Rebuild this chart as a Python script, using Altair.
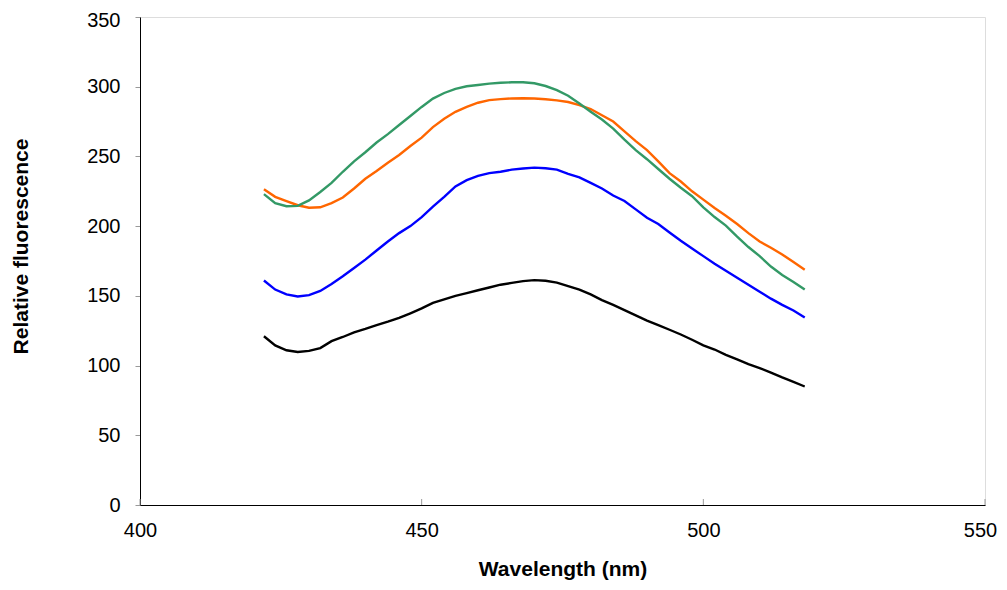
import altair as alt
import pandas as pd

wavelength = list(range(422, 519, 2))

black = [121, 114.5, 111, 109.7, 110.5, 112.5, 117.5, 120.5, 123.8, 126.3,
         129, 131.5, 134.2, 137.5, 141, 145, 147.5, 150, 152, 154,
         156, 158, 159.3, 160.6, 161.3, 160.8, 159.5, 157, 154.5, 151,
         147, 143.5, 139.8, 136, 132.3, 129, 125.7, 122.3, 118.5, 114.5,
         111.5, 107.7, 104.5, 101, 98.2, 95, 91.5, 88.3, 85]

blue = [161, 154.5, 151, 149.5, 150.5, 153.5, 158.5, 164, 170, 176,
        182.5, 189, 195, 200, 206.5, 214, 221, 228.5, 233, 236,
        238, 239, 240.5, 241.3, 242, 241.5, 240.5, 237.5, 235, 231,
        227, 222, 218, 212, 206, 201.5, 195.5, 189.5, 184, 178.5,
        173, 168, 163, 158, 153, 148, 143.5, 139.5, 134.5]

orange = [226.5, 221, 218, 215, 213.2, 213.5, 216.5, 220.5, 227, 234,
          239.5, 245.5, 251, 257.5, 263.5, 271, 277, 282, 285.5, 288.5,
          290.4, 291.1, 291.6, 291.7, 291.5, 291, 290.2, 289, 286.8, 284,
          279.5, 275, 268, 261, 254.5, 246.5, 238, 232, 225, 219,
          213, 207.5, 201.5, 195, 189, 184.5, 179.7, 174.2, 168.8]

green = [223, 216.5, 214.3, 214.5, 218.5, 224.5, 231, 239, 246.5, 253,
         260, 266, 272.5, 279, 285.5, 291.5, 295.5, 298.5, 300.3, 301.2,
         302.2, 302.8, 303.2, 303.2, 302.5, 300.5, 297.5, 293.5, 288, 282,
         276.5, 270, 262, 254.5, 248, 241, 234, 227.5, 221.5, 213.5,
         206.5, 200.4, 192.5, 185, 178.5, 171, 165, 160, 154.5]

series_names = ["Series 1", "Series 2", "Series 3", "Series 4"]
series_colors = ["#000000", "#0000FF", "#FF6600", "#339966"]

x_ticks = [400, 450, 500, 550]
y_ticks = [0, 50, 100, 150, 200, 250, 300, 350]

rows = []
for name, vals in zip(series_names, [black, blue, orange, green]):
    for w, v in zip(wavelength, vals):
        rows.append({"wavelength": w, "fluorescence": v, "series": name})
df = pd.DataFrame(rows)

FONT = "Liberation Sans"

xscale = alt.Scale(domain=[400, 550], nice=False, zero=False)
yscale = alt.Scale(domain=[0, 350], nice=False)

x_axis = alt.Axis(values=x_ticks, title="Wavelength (nm)", ticks=False,
                  grid=False, labelPadding=15, labelFontSize=20, labelFlush=False,
                  labelOffset={"expr": "datum.value == 550 ? -5 : 0"},
                  labelFont=FONT, labelColor="#000000",
                  titleFont=FONT, titleFontSize=21, titleFontWeight="bold",
                  titleColor="#000000", titlePadding=18,
                  domainColor="#000000", domainWidth=1)

y_axis = alt.Axis(values=y_ticks, title="Relative fluorescence",
                  grid=False, tickSize=5, tickColor="#999999",
                  labelPadding=15, labelFontSize=20, labelFont=FONT,
                  labelOffset={"expr": "datum.value == 350 ? 3 : 0"},
                  labelColor="#000000",
                  titleFont=FONT, titleFontSize=21, titleFontWeight="bold",
                  titleColor="#000000", titlePadding=55, titleY=229,
                  domainColor="#000000", domainWidth=1)

lines = alt.Chart(df).mark_line(strokeWidth=2.4).encode(
    x=alt.X("wavelength:Q", scale=xscale, axis=x_axis),
    y=alt.Y("fluorescence:Q", scale=yscale, axis=y_axis),
    color=alt.Color("series:N", scale=alt.Scale(domain=series_names, range=series_colors),
                    legend=None),
    order=alt.Order("wavelength:Q"),
)

tick_df = pd.DataFrame({"tick": x_ticks})
xticks = alt.Chart(tick_df).mark_rule(color="#999999", strokeWidth=1).encode(
    x=alt.X("tick:Q", scale=xscale, axis=x_axis),
    y=alt.value(482),
    y2=alt.value(488),
)

chart = alt.layer(lines, xticks).properties(
    width=845,
    height=488,
    autosize=alt.AutoSizeParams(type="none"),
    padding={"left": 132, "top": 9, "right": 14, "bottom": 77},
).configure_view(stroke=None).configure(background="#ffffff")

chart.save("out.html", embed_options={"renderer": "svg", "actions": False})
